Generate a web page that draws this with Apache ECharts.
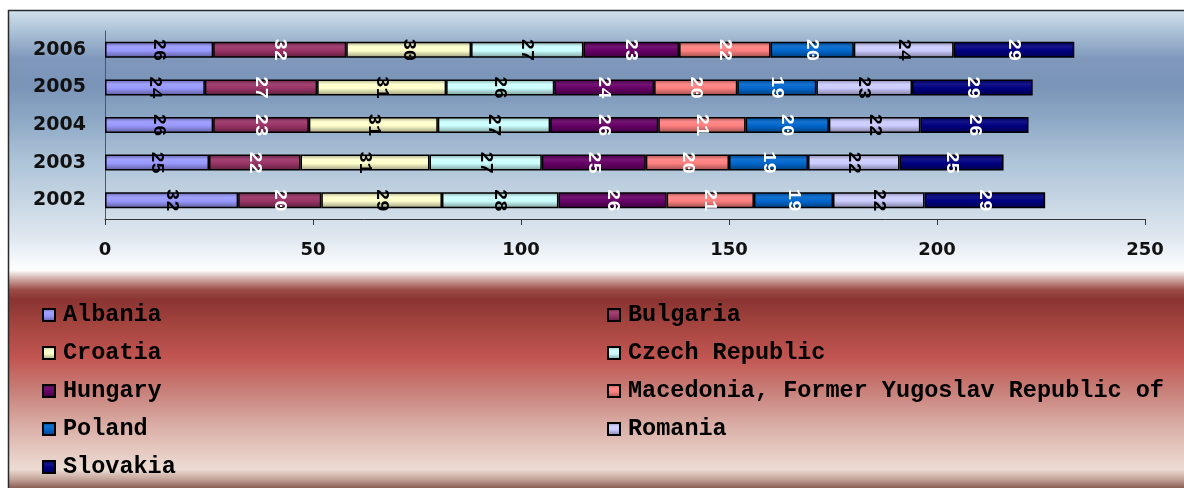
<!DOCTYPE html>
<html>
<head>
<meta charset="utf-8">
<script src="https://cdn.jsdelivr.net/npm/echarts@6/dist/echarts.min.js"></script>
<style>
  html, body { margin: 0; padding: 0; background: #ffffff; }
  #chart { width: 1184px; height: 488px; }
</style>
</head>
<body>
<div id="chart"></div>
<script>
// Years on the category axis (bottom to top)
const years = ['2002', '2003', '2004', '2005', '2006'];

// Values per country, in the same year order
const albania   = [32, 25, 26, 24, 26];
const bulgaria  = [20, 22, 23, 27, 32];
const croatia   = [29, 31, 31, 31, 30];
const czech     = [28, 27, 27, 26, 27];
const hungary   = [26, 25, 26, 24, 23];
const macedonia = [21, 20, 21, 20, 22];
const poland    = [19, 19, 20, 19, 20];
const romania   = [22, 22, 22, 23, 24];
const slovakia  = [29, 25, 26, 29, 29];

const countryNames = [
  'Albania', 'Bulgaria', 'Croatia', 'Czech Republic', 'Hungary',
  'Macedonia, Former Yugoslav Republic of', 'Poland', 'Romania', 'Slovakia'
];
const countryValues = [albania, bulgaria, croatia, czech, hungary, macedonia, poland, romania, slovakia];

// Value axis ticks
const xMin = 0, xMax = 250, xStep = 50;

// Fill colours and label colours for each series
const fills = ['#9999ff', '#993366', '#ffffcc', '#ccffff', '#660066', '#ff8080', '#0066cc', '#ccccff', '#000080'];
const labelInk = ['#000', '#fff', '#000', '#000', '#fff', '#fff', '#fff', '#000', '#fff'];

function mix(hex, target, t) {
  const a = parseInt(hex.slice(1), 16);
  const r = (a >> 16) & 255, g = (a >> 8) & 255, b = a & 255;
  const f = c => Math.round(c + (target - c) * t);
  return 'rgb(' + f(r) + ',' + f(g) + ',' + f(b) + ')';
}
function glossy(hex) {
  return new echarts.graphic.LinearGradient(0, 0, 0, 1, [
    { offset: 0, color: mix(hex, 0, 0.35) },
    { offset: 0.3, color: mix(hex, 255, 0.08) },
    { offset: 0.55, color: hex },
    { offset: 1, color: mix(hex, 0, 0.4) }
  ]);
}

const monoBold = { fontFamily: 'Liberation Mono', fontWeight: 'bold' };

const series = countryNames.map((name, i) => ({
  name: name,
  type: 'bar',
  stack: 'total',
  barWidth: 16,
  data: countryValues[i],
  itemStyle: { color: glossy(fills[i]), borderColor: '#000', borderWidth: 1.5 },
  label: {
    show: true,
    position: 'inside',
    rotate: -90,
    color: labelInk[i],
    fontFamily: 'Liberation Mono',
    fontWeight: 'bold',
    fontSize: 19
  },
  emphasis: { disabled: true }
}));

const legendText = Object.assign({ fontSize: 23.5, color: '#000', lineHeight: 24, padding: [0, 0, 0, 3] }, monoBold);
const leftNames = [countryNames[0], countryNames[2], countryNames[4], countryNames[6], countryNames[8]];
const rightNames = [countryNames[1], countryNames[3], countryNames[5], countryNames[7]];

const chart = echarts.init(document.getElementById('chart'), null, { renderer: 'canvas' });
chart.setOption({
  animation: false,
  backgroundColor: '#ffffff',
  graphic: [{
    type: 'rect',
    z: -10,
    silent: true,
    shape: { x: 8.5, y: 10.5, width: 1190, height: 490 },
    style: {
      stroke: '#2a2a2a',
      lineWidth: 1.5,
      fill: new echarts.graphic.LinearGradient(0, 0, 0, 1, [
        { offset: 0.000, color: '#d4e2ec' },
        { offset: 0.040, color: '#aec4d8' },
        { offset: 0.100, color: '#7f98bb' },
        { offset: 0.155, color: '#7a94b8' },
        { offset: 0.225, color: '#8ea9c6' },
        { offset: 0.310, color: '#aec4d8' },
        { offset: 0.395, color: '#c9d7e5' },
        { offset: 0.465, color: '#e0e8f0' },
        { offset: 0.510, color: '#f5f8fb' },
        { offset: 0.530, color: '#fdfdfd' },
        { offset: 0.548, color: '#cfa8a3' },
        { offset: 0.570, color: '#9c4c46' },
        { offset: 0.590, color: '#8a3432' },
        { offset: 0.640, color: '#a4443f' },
        { offset: 0.710, color: '#c25652' },
        { offset: 0.775, color: '#c87f79' },
        { offset: 0.840, color: '#d8aaa2' },
        { offset: 0.900, color: '#e6cac2' },
        { offset: 0.935, color: '#ecdcd3' },
        { offset: 0.955, color: '#c4a49a' },
        { offset: 0.975, color: '#84574d' },
        { offset: 1.000, color: '#6a3c34' }
      ])
    }
  }],
  grid: { left: 105, right: 39, top: 31, bottom: 269, containLabel: false },
  xAxis: {
    type: 'value',
    min: xMin,
    max: xMax,
    interval: xStep,
    splitLine: { show: false },
    axisLine: { show: true, lineStyle: { color: '#333', width: 1 } },
    axisTick: { show: true, length: 6, lineStyle: { color: '#333' } },
    axisLabel: { margin: 22, color: '#111', fontFamily: 'DejaVu Sans', fontWeight: 'bold', fontSize: 18 }
  },
  yAxis: {
    type: 'category',
    data: years,
    axisLine: { show: true, lineStyle: { color: '#555', width: 1 } },
    axisTick: { show: false },
    axisLabel: { margin: 19, color: '#111', fontFamily: 'DejaVu Sans', fontWeight: 'bold', fontSize: 19 }
  },
  legend: [
    {
      orient: 'vertical', left: 42, top: 303, padding: 0, icon: 'rect',
      itemWidth: 12, itemHeight: 12, itemGap: 14,
      data: leftNames, selectedMode: false, textStyle: legendText
    },
    {
      orient: 'vertical', left: 607, top: 303, padding: 0, icon: 'rect',
      itemWidth: 12, itemHeight: 12, itemGap: 14,
      data: rightNames, selectedMode: false, textStyle: legendText
    }
  ],
  series: series
});
</script>
</body>
</html>
